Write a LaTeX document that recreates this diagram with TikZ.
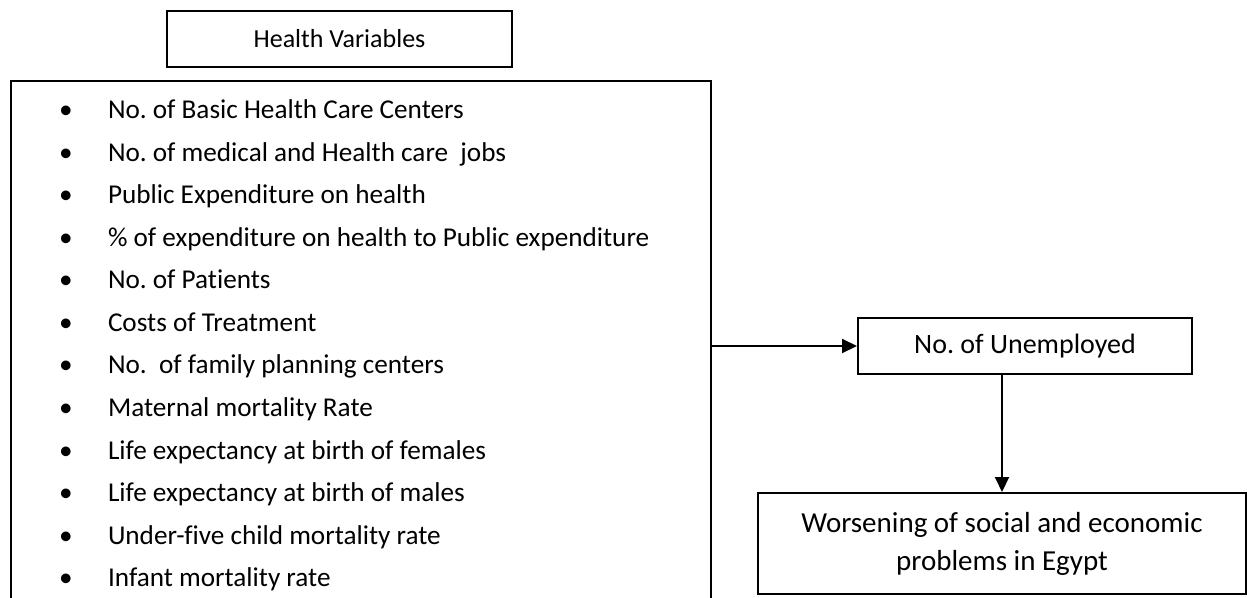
\documentclass[tikz,border=0pt]{standalone}
\usepackage{fontspec}
\setmainfont{Carlito}[Ligatures=NoCommon]
\frenchspacing
\usetikzlibrary{arrows.meta, positioning}

\begin{document}
\begin{tikzpicture}[
  x=0.5pt, y=-0.5pt,
  box/.style={rectangle, draw, line width=1pt, align=center, inner sep=0pt, font=\fontsize{13}{16}\selectfont},
  item/.style={anchor=base west, inner sep=0pt, font=\fontsize{13.6}{16}\selectfont},
  bul/.style={anchor=base, inner sep=0pt, font=\fontsize{13.6}{16}\selectfont},
  >={Triangle[length=7.5pt, width=7pt]}, line width=1pt
]
  \useasboundingbox (0,0) rectangle (1247,598);

  \node[box, minimum width=172.5pt, minimum height=28pt] (hv) at (339.5,39) {Health Variables};

  % open frame round the list
  \draw (11,598) -- (11,81) -- (711,81) -- (711,598);
  \coordinate (fr) at (711,346);

  \foreach \txt [count=\i from 0] in {
      No. of Basic Health Care Centers,
      No. of medical and Health care\ \ jobs,
      Public Expenditure on health,
      \% of expenditure on health to Public expenditure,
      No. of Patients,
      Costs of Treatment,
      No.\ \ of family planning centers,
      Maternal mortality Rate,
      Life expectancy at birth of females,
      Life expectancy at birth of males,
      Under-five child mortality rate,
      Infant mortality rate}{
    \node[bul] (b\i) at (66,119+42.5*\i) {\textbullet};
    \node[item] (v\i) at (107,119+42.5*\i) {\txt};
  }

  \node[box, font=\fontsize{14}{16}\selectfont, minimum width=167pt, minimum height=28pt] (unemp) at (1025,346) {No. of Unemployed};
  \node[box, font=\fontsize{14.5}{19}\selectfont, minimum width=244pt, minimum height=50.5pt] (worse) at (1002,543.5)
    {Worsening of social and economic\\problems in Egypt};

  \draw[->] (fr) -- (unemp);
  \draw[->] (unemp.south -| worse.north) -- (worse.north);
\end{tikzpicture}
\end{document}
